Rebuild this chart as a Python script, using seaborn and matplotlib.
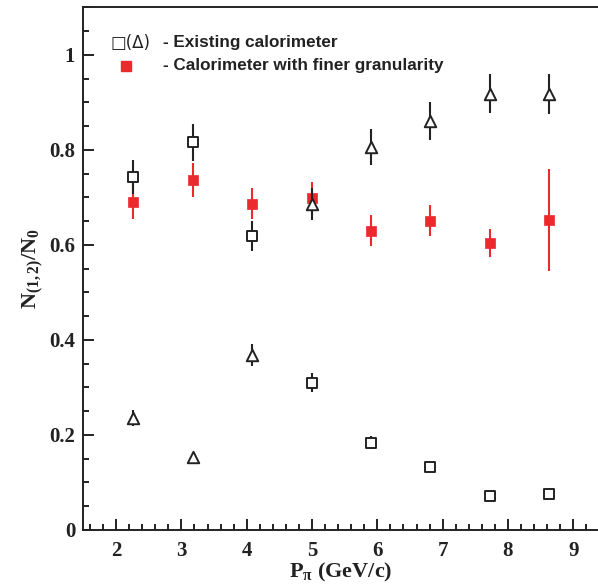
import matplotlib
matplotlib.use("Agg")
import matplotlib.pyplot as plt
import seaborn as sns
import pandas as pd
from matplotlib.ticker import MultipleLocator

sns.set_theme(style="ticks")
plt.rcParams["font.family"] = ["Liberation Serif", "DejaVu Serif"]
plt.rcParams["mathtext.fontset"] = "custom"
plt.rcParams["mathtext.rm"] = "Liberation Serif:bold"
plt.rcParams["mathtext.bf"] = "Liberation Serif:bold"
plt.rcParams["mathtext.it"] = "Liberation Serif:bold"

# ---- Data ----
p_pi = [2.26, 3.17, 4.08, 5.00, 5.90, 6.81, 7.72, 8.63]

# existing calorimeter, upper points
upper_val = [0.742, 0.816, 0.619, 0.686, 0.806, 0.860, 0.918, 0.917]
upper_err = [0.036, 0.039, 0.031, 0.033, 0.038, 0.040, 0.041, 0.042]
upper_mark = ["square", "square", "square", "triangle",
              "triangle", "triangle", "triangle", "triangle"]

# existing calorimeter, lower points
lower_val = [0.235, 0.153, 0.368, 0.310, 0.184, 0.133, 0.072, 0.076]
lower_err = [0.017, 0.008, 0.023, 0.020, 0.014, 0.005, 0.0, 0.0]
lower_mark = ["triangle", "triangle", "triangle", "square",
              "square", "square", "square", "square"]

# finer granularity calorimeter
fine_val = [0.690, 0.737, 0.687, 0.699, 0.630, 0.651, 0.604, 0.652]
fine_err = [0.035, 0.036, 0.033, 0.033, 0.032, 0.033, 0.030, 0.108]

RED = "#EC2A2E"
INK = "#222222"

existing = pd.DataFrame({
    "p": p_pi + p_pi,
    "ratio": upper_val + lower_val,
    "err": upper_err + lower_err,
    "marker": upper_mark + lower_mark,
})
fine = pd.DataFrame({"p": p_pi, "ratio": fine_val, "err": fine_err})

fig = plt.figure(figsize=(5.98, 5.86), dpi=100)
ax = fig.add_axes([0.1396, 0.0956, 0.8604, 0.892])

# red points first
ax.errorbar(fine["p"], fine["ratio"], yerr=fine["err"], fmt="none",
            ecolor=RED, elinewidth=1.5, capsize=0, zorder=2)
sns.scatterplot(data=fine, x="p", y="ratio", marker="s", s=44,
                color=RED, edgecolor=RED, linewidth=0.5, ax=ax,
                legend=False, zorder=3)

# existing calorimeter, open markers
ax.errorbar(existing["p"], existing["ratio"], yerr=existing["err"], fmt="none",
            ecolor=INK, elinewidth=1.5, capsize=0, zorder=4)
sq = existing[existing["marker"] == "square"]
tri = existing[existing["marker"] == "triangle"]
sns.scatterplot(data=sq, x="p", y="ratio", marker="s", s=54,
                color="white", edgecolor=INK, linewidth=1.4,
                ax=ax, legend=False, zorder=5)
sns.scatterplot(data=tri, x="p", y="ratio", marker="^", s=68,
                color="white", edgecolor=INK, linewidth=1.4,
                ax=ax, legend=False, zorder=5)

ax.set_xlim(1.5, 9.379)
ax.set_ylim(0, 1.1)
ax.xaxis.set_minor_locator(MultipleLocator(0.2))
ax.yaxis.set_minor_locator(MultipleLocator(0.05))
ax.set_xticks([2, 3, 4, 5, 6, 7, 8, 9])
ax.set_yticks([0, 0.2, 0.4, 0.6, 0.8, 1.0])
ax.set_yticklabels(["0", "0.2", "0.4", "0.6", "0.8", "1"])

ax.tick_params(which="both", direction="in", width=1.4, color=INK,
               labelsize=15, labelcolor=INK)
ax.tick_params(which="major", length=8)
ax.tick_params(which="minor", length=4)
ax.tick_params(axis="x", which="major", pad=8)
ax.tick_params(axis="y", which="major", pad=6)
for lab in ax.get_xticklabels() + ax.get_yticklabels():
    lab.set_fontweight("bold")

for side in ("left", "bottom", "top"):
    ax.spines[side].set_linewidth(1.4)
    ax.spines[side].set_color(INK)
ax.spines["right"].set_visible(False)

ax.set_xlabel(r"$P_{\pi}$ (GeV/c)", fontsize=16, fontweight="bold",
              color=INK, labelpad=0)
ax.set_ylabel(r"$N_{(1,2)}/N_0$", fontsize=16, color=INK, labelpad=3)

# key
sans = ["Liberation Sans", "DejaVu Sans"]
ax.text(0.052, 0.932, "\u25a1(\u0394)", transform=ax.transAxes, fontsize=12,
        family=["DejaVu Sans"], color=INK, va="center")
ax.text(0.155, 0.932, "- Existing calorimeter", transform=ax.transAxes,
        fontsize=12.3, fontweight="bold", family=sans, color=INK, va="center")
ax.plot([0.082], [0.888], marker="s", ms=6.5, color=RED, ls="none",
        transform=ax.transAxes)
ax.text(0.155, 0.888, "- Calorimeter with finer granularity",
        transform=ax.transAxes, fontsize=12.3, fontweight="bold", family=sans,
        color=INK, va="center")

fig.savefig("out.png", dpi=100)
